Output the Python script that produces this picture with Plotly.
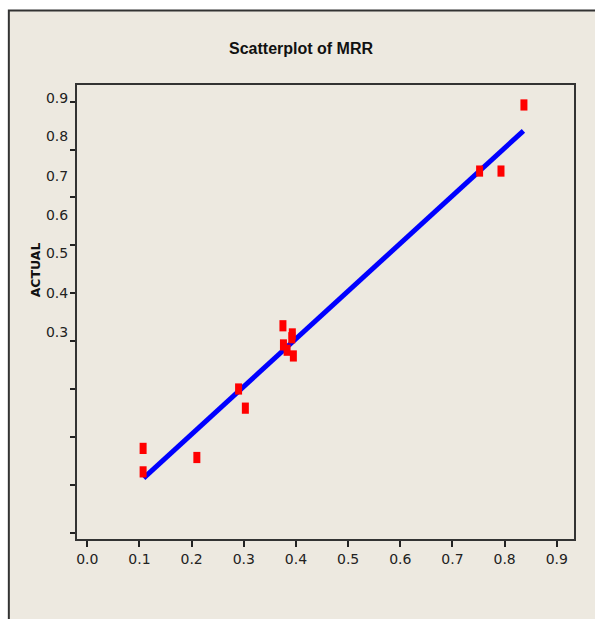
import plotly.graph_objects as go

# Predicted vs. actual material removal rate
predicted = [0.107, 0.107, 0.210, 0.290, 0.303, 0.375, 0.393, 0.392, 0.376, 0.383, 0.395, 0.752, 0.793, 0.837]
actual = [0.176, 0.127, 0.157, 0.300, 0.260, 0.432, 0.415, 0.407, 0.392, 0.381, 0.369, 0.755, 0.755, 0.893]

# Reference line through the fitted range
fit_x = [0.108, 0.836]
fit_y = [0.114, 0.839]

# Axis ticks
x_ticks = [0.0, 0.1, 0.2, 0.3, 0.4, 0.5, 0.6, 0.7, 0.8, 0.9]
x_tick_text = ["0.0", "0.1", "0.2", "0.3", "0.4", "0.5", "0.6", "0.7", "0.8", "0.9"]
y_ticks = [0.0, 0.1, 0.2, 0.3, 0.4, 0.5, 0.6, 0.7, 0.8, 0.9]
y_label_pos = [0.907, 0.827, 0.745, 0.663, 0.583, 0.500, 0.418]
y_label_text = ["0.9", "0.8", "0.7", "0.6", "0.5", "0.4", "0.3"]

W, H = 595, 619
L, R, T, B = 76.7, 574.0, 85.0, 539.0
pw, ph = R - L, B - T


def px_x(p):
    return (p - L) / pw


def px_y(p):
    return (B - p) / ph


BEIGE = "#EDE9E0"
tick_font = dict(family="DejaVu Sans", size=14, color="#222222")

fig = go.Figure()
fig.add_trace(go.Scatter(
    x=fit_x, y=fit_y, mode="lines",
    line=dict(color="#0000FF", width=5),
    hoverinfo="skip", showlegend=False,
))
fig.add_trace(go.Scatter(
    x=predicted, y=actual, mode="markers",
    marker=dict(symbol="line-ns-open", size=8, color="#FF0000",
                line=dict(color="#FF0000", width=7)),
    showlegend=False,
))
# invisible trace to activate the label-only axis
fig.add_trace(go.Scatter(x=[None], y=[None], yaxis="y2", showlegend=False))

fig.update_layout(
    width=W, height=H,
    margin=dict(l=L, r=W - R, t=T, b=H - B),
    paper_bgcolor="white",
    plot_bgcolor="white",
    title=dict(
        text="<b>Scatterplot of MRR</b>",
        x=301 / W, xanchor="center", xref="container",
        y=1 - 48 / H, yanchor="middle",
        font=dict(family="Liberation Sans Narrow, Arial Narrow, Liberation Sans", size=16, color="#111111"),
    ),
    xaxis=dict(
        range=[(L - 87) / 522, (R - 87) / 522],
        tickvals=x_ticks, ticktext=x_tick_text,
        ticks="outside", ticklen=6, tickwidth=1.5, tickcolor="#222222",
        showgrid=False, zeroline=False,
        showline=True, linecolor="#333333", linewidth=1.5, mirror=True,
        tickfont=tick_font,
    ),
    yaxis=dict(
        range=[(532.7 - B) / 479, (532.7 - T) / 479],
        tickvals=y_ticks, showticklabels=False,
        ticks="outside", ticklen=5, tickwidth=1.5, tickcolor="#222222",
        showgrid=False, zeroline=False,
        showline=True, linecolor="#333333", linewidth=1.5, mirror=True,
    ),
    yaxis2=dict(
        overlaying="y", side="left", matches="y",
        tickvals=y_label_pos, ticktext=y_label_text,
        ticks="outside", ticklen=5, tickcolor="rgba(0,0,0,0)",
        showgrid=False, zeroline=False, showline=False,
        tickfont=tick_font,
    ),
    shapes=[
        dict(type="rect", xref="paper", yref="paper", layer="below",
             x0=px_x(8.5), x1=px_x(W + 20), y0=px_y(H + 20), y1=px_y(10.5),
             fillcolor=BEIGE, line=dict(color="#333333", width=2)),
    ],
    annotations=[
        dict(text="<b>ACTUAL</b>", xref="paper", yref="paper",
             x=px_x(35), y=px_y(270), textangle=-90, showarrow=False,
             font=dict(family="DejaVu Sans", size=12.5, color="#111111"),
             xanchor="center", yanchor="middle"),
    ],
)

fig.write_html("out.html")
